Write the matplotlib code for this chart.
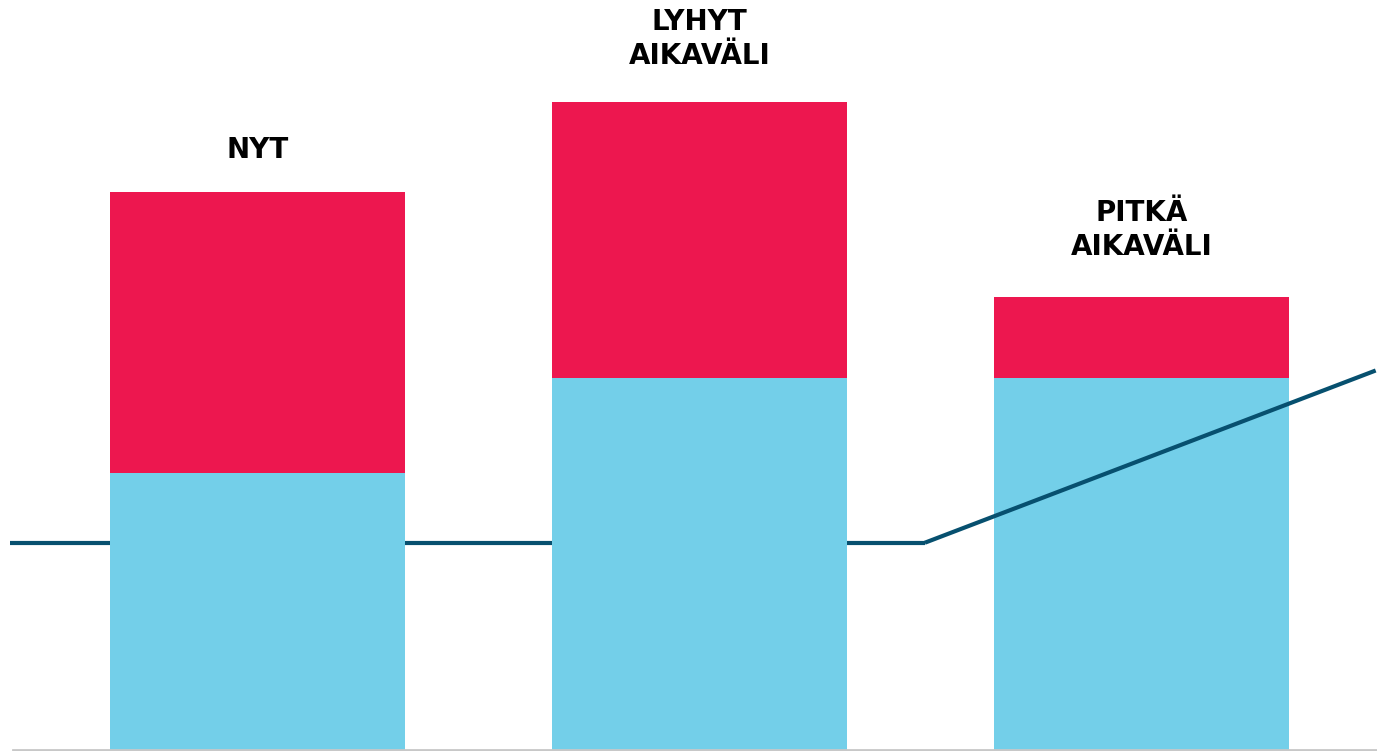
import numpy as np
import matplotlib.pyplot as plt

# Pylväiden tiedot (arvot luettu kuvasta, mielivaltainen yksikkö)
kategoriat = ['NYT', 'LYHYT\nAIKAVÄLI', 'PITKÄ\nAIKAVÄLI']
sininen = [2.77, 3.72, 3.72]
punainen = [2.80, 2.75, 0.80]

# Viivan pisteet (x, y)
viiva_x = [-0.56, 1.51, 2.53]
viiva_y = [2.07, 2.07, 3.79]

SININEN = '#73CFE9'
PUNAINEN = '#ED174F'
VIIVA = '#07506F'

fig = plt.figure(figsize=(13.77, 7.51), dpi=100)
ax = fig.add_axes([0, 0, 1, 1])

x = np.arange(len(kategoriat))
leveys = 0.667

ax.bar(x, sininen, width=leveys, color=SININEN, zorder=2)
ax.bar(x, punainen, width=leveys, bottom=sininen, color=PUNAINEN, zorder=2)

# vaakasuora osa pylväiden takana, nouseva osa päällä
ax.plot(viiva_x[:2], viiva_y[:2], color=VIIVA, lw=3, zorder=1, solid_capstyle='butt')
ax.plot(viiva_x[1:], viiva_y[1:], color=VIIVA, lw=3, zorder=3, solid_capstyle='butt')

ax.axhline(0, xmin=13 / 1377, color='#C8C8C8', lw=2, zorder=4)

siirto = [20, 23, 26]
for i, nimi in enumerate(kategoriat):
    yhteensa = sininen[i] + punainen[i]
    ax.annotate(nimi, (x[i], yhteensa), xytext=(0, siirto[i]), textcoords='offset points',
                ha='center', va='bottom', fontsize=20, fontweight='black',
                family='DejaVu Sans', linespacing=1.3, color='black')

ax.set_xlim(-0.5826, 2.533)
ax.set_ylim(-0.01, 7.49)
ax.axis('off')

fig.savefig('out.png', dpi=100, facecolor='white')
